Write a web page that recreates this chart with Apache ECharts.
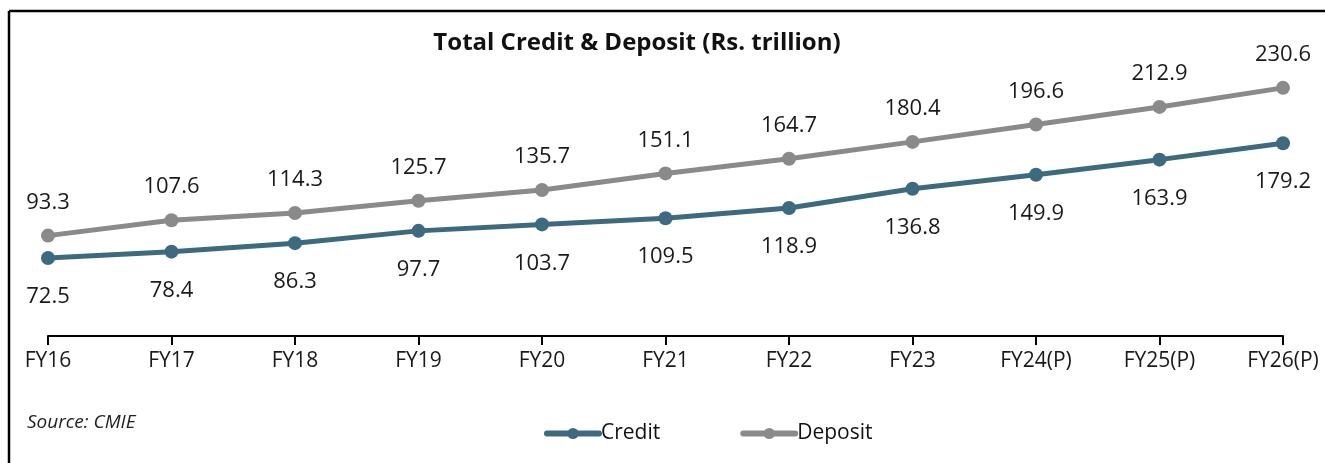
<!DOCTYPE html>
<html>
<head>
<meta charset="utf-8">
<script src="https://cdn.jsdelivr.net/npm/echarts@6/dist/echarts.min.js"></script>
<style>
  html, body { margin: 0; padding: 0; background: #fff; }
  #chart { width: 1325px; height: 463px; }
</style>
</head>
<body>
<div id="chart"></div>
<script>
const years = ["FY16", "FY17", "FY18", "FY19", "FY20", "FY21", "FY22", "FY23", "FY24(P)", "FY25(P)", "FY26(P)"];
const credit = [72.5, 78.4, 86.3, 97.7, 103.7, 109.5, 118.9, 136.8, 149.9, 163.9, 179.2];
const deposit = [93.3, 107.6, 114.3, 125.7, 135.7, 151.1, 164.7, 180.4, 196.6, 212.9, 230.6];

const font = "'Open Sans', 'Noto Sans', sans-serif";
const chart = echarts.init(document.getElementById("chart"));

function lineSeries(name, data, color, pos, dist) {
  return {
    name: name,
    type: "line",
    data: data,
    symbol: "circle",
    symbolSize: 14,
    lineStyle: { width: 5, color: color },
    itemStyle: { color: color },
    label: {
      show: true,
      position: pos,
      distance: dist,
      fontFamily: font,
      fontSize: 22,
      color: "#1a1a1a",
    },
    emphasis: { disabled: true },
  };
}

chart.setOption({
  animation: false,
  title: {
    text: "Total Credit & Deposit (Rs. trillion)",
    left: 632,
    textAlign: "center",
    top: 26,
    textStyle: { fontFamily: font, fontWeight: "bold", fontSize: 24, color: "#111" },
  },
  legend: {
    bottom: 14,
    left: 539,
    itemWidth: 52,
    itemHeight: 14,
    itemGap: 80,
    lineStyle: { width: 6, cap: "round" },
    textStyle: { fontFamily: font, fontSize: 21, color: "#111", padding: [0, 0, 0, -3] },
    data: ["Credit", "Deposit"],
  },
  graphic: [
    { type: "line", shape: { x1: 9, y1: 11, x2: 1325, y2: 11 }, style: { stroke: "#000", lineWidth: 2.5 } },
    { type: "line", shape: { x1: 9, y1: 11, x2: 9, y2: 463 }, style: { stroke: "#000", lineWidth: 2.5 } },
    {
      type: "text", left: 27, top: 413,
      style: { text: "Source: CMIE", fontFamily: font, fontStyle: "italic", fontSize: 19, fill: "#222" },
    },
  ],
  grid: { left: 48, right: 42, top: 67, height: 269 },
  xAxis: {
    type: "category",
    boundaryGap: false,
    data: years,
    axisLine: { lineStyle: { color: "#000", width: 2 } },
    axisTick: { show: true, length: 9, lineStyle: { color: "#000", width: 2 } },
    axisLabel: { fontFamily: font, fontSize: 21, color: "#1a1a1a", margin: 15 },
  },
  yAxis: {
    type: "value",
    min: 0,
    max: 250,
    show: false,
  },
  series: [
    lineSeries("Credit", credit, "#3e6a7f", "bottom", 21),
    lineSeries("Deposit", deposit, "#8a8a8a", "top", 15),
  ],
});
</script>
</body>
</html>
